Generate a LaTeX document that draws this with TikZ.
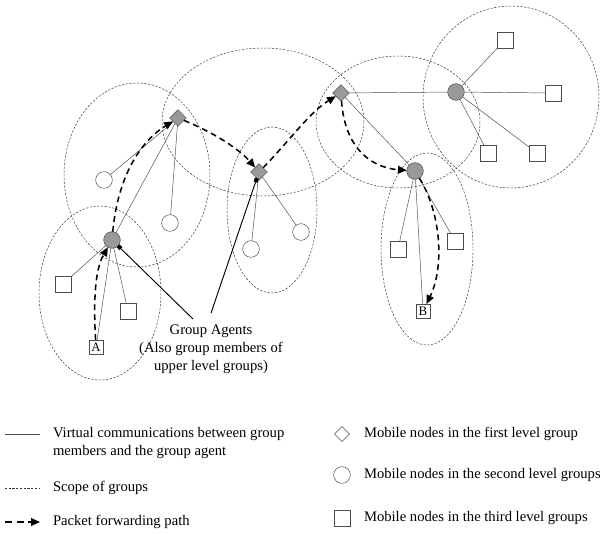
\documentclass[tikz,border=0pt]{standalone}
\usepackage{fontspec}
\setmainfont{Liberation Serif}
\usetikzlibrary{arrows.meta,shapes.geometric}

\begin{document}
\begin{tikzpicture}[
		x=0.03cm, y=-0.03cm,
		every node/.style = {
			font=\fontsize{12.5}{15.5}\selectfont,
			inner sep=0cm, outer sep=0cm
		},
		agentd/.style = {draw=black!70, fill=black!40, diamond, minimum size=0.5cm},
		agentc/.style = {draw=black!70, fill=black!40, circle, minimum size=0.5cm},
		memd/.style = {draw=black!70, diamond, minimum size=0.45cm},
		memc/.style = {draw=black!70, circle, minimum size=0.5cm},
		mems/.style = {draw=black!70, rectangle, minimum size=0.48cm},
		ends/.style = {draw=black!70, rectangle, minimum size=0.42cm, font=\fontsize{11}{12}\selectfont},
		link/.style = {draw=black!70, line width=0.4pt},
		grp/.style = {draw=black!80, line width=0.4pt, dash pattern=on 1.9pt off 1.3pt},
		fwd/.style = {draw=black, line width=1.3pt, dash pattern=on 5pt off 3.5pt,
			-{Triangle[length=7.5pt,width=6.5pt]}},
		pointer/.style = {draw=black, line width=0.8pt, -{Square[length=3.5pt,width=3.5pt]}}
		]
		\useasboundingbox (0,0) rectangle (600,533);

		% scopes of groups
		\foreach \cx/\cy/\rx/\ry in {100/293/61/87, 137/175/73/92, 263/122/101/74,
				272/210/45/83, 398/122/82/66, 511/97/88/91, 427/249/46/96}
			\draw[grp] (\cx,\cy) ellipse [x radius=\rx, y radius=\ry];

		% group agents
		\node[agentd] (d1) at (178,118) {};
		\node[agentd] (d2) at (259,172) {};
		\node[agentd] (d3) at (341,93) {};
		\node[agentc] (c1) at (112,240) {};
		\node[agentc] (c2) at (456,92) {};
		\node[agentc] (c3) at (415,171) {};

		% members
		\node[memc] (m1) at (104,180) {};
		\node[memc] (m2) at (170,223) {};
		\node[memc] (m3) at (251,249) {};
		\node[memc] (m4) at (301,232) {};
		\node[mems] (s1) at (63,284) {};
		\node[mems] (s2) at (128,311) {};
		\node[mems] (s3) at (505,40) {};
		\node[mems] (s4) at (553,93) {};
		\node[mems] (s5) at (488,153) {};
		\node[mems] (s6) at (537,153) {};
		\node[mems] (s7) at (398,249) {};
		\node[mems] (s8) at (455,241) {};
		\node[ends] (a) at (96,347) {A};
		\node[ends] (b) at (423,311) {B};

		% virtual communications
		\draw[link] (c1) -- (s1);
		\draw[link] (c1) -- (s2);
		\draw[link] (c1) -- (a);
		\draw[link] (d1) -- (m1);
		\draw[link] (d1) -- (m2);
		\draw[link] (d1) -- (c1);
		\draw[link] (d2) -- (m3);
		\draw[link] (d2) -- (m4);
		\draw[link] (d3) -- (c2);
		\draw[link] (d3) -- (c3);
		\draw[link] (c2) -- (s3);
		\draw[link] (c2) -- (s4);
		\draw[link] (c2) -- (s5);
		\draw[link] (c2) -- (s6);
		\draw[link] (c3) -- (s7);
		\draw[link] (c3) -- (s8);
		\draw[link] (c3) -- (b);

		% packet forwarding path
		\draw[fwd] (a) .. controls (93,295) and (96,268) .. (c1);
		\draw[fwd] (c1) .. controls (117,185) and (135,145) .. (d1);
		\draw[fwd] (d1) .. controls (215,133) and (240,150) .. (d2);
		\draw[fwd] (d2) .. controls (290,140) and (310,112) .. (d3);
		\draw[fwd] (d3) .. controls (345,152) and (375,168) .. (c3);
		\draw[fwd] (c3) .. controls (442,215) and (444,268) .. (b);

		% group agents label
		\node[align=center] (ga) at (211,349) {Group Agents\\(Also group members of\\upper level groups)};
		\coordinate (p1) at (193,319);
		\coordinate (p2) at (211,313);
		\draw[pointer] (p1) -- (c1);
		\draw[pointer] (p2) -- (d2);

		% legend
		\coordinate (l1a) at (5,434);
		\coordinate (l1b) at (40,434);
		\draw[link] (l1a) -- (l1b);
		\node[anchor=north west, align=left] (lv) at (53,427) {Virtual communications between group\\members and the group agent};
		\coordinate (l2a) at (5,488);
		\coordinate (l2b) at (40,488);
		\draw[grp] (l2a) -- (l2b);
		\node[anchor=west] (ls) at (53,488) {Scope of groups};
		\coordinate (l3a) at (5,522);
		\coordinate (l3b) at (40,522);
		\draw[fwd, dash pattern=on 6pt off 4pt] (l3a) -- (l3b);
		\node[anchor=west] (lp) at (53,522) {Packet forwarding path};

		\node[memd] (k1) at (342,434) {};
		\node[anchor=west] (t1) at (364,434) {Mobile nodes in the first level group};
		\node[memc] (k2) at (342,475) {};
		\node[anchor=west] (t2) at (364,475) {Mobile nodes in the second level groups};
		\node[mems] (k3) at (342,518) {};
		\node[anchor=west] (t3) at (364,518) {Mobile nodes in the third level groups};
	\end{tikzpicture}
\end{document}
